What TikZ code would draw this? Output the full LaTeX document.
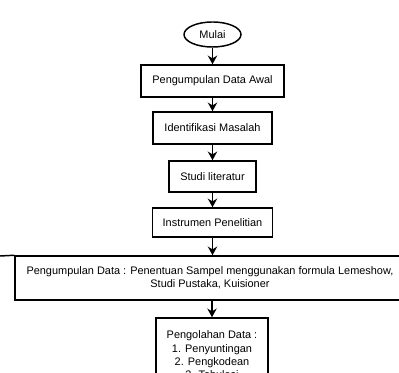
\documentclass[tikz,border=0pt]{standalone}
\usepackage{fontspec}
\setmainfont{Liberation Sans}
\usetikzlibrary{shapes.geometric,arrows.meta}

\begin{document}
\begin{tikzpicture}[x=0.75pt,y=-0.75pt,
  proses/.style={draw,line width=1.1pt,inner sep=0pt,align=center,font=\fontsize{8.2}{10}\selectfont},
  mulai/.style={draw,ellipse,line width=1.1pt,inner sep=0pt,font=\fontsize{8.2}{10}\selectfont},
  panah/.style={line width=1.4pt,-{Stealth[length=6.5pt,width=7pt]}}]
\useasboundingbox (0,0) rectangle (399,373);
\node[mulai,minimum width=42.75pt,minimum height=18.75pt] (mulai) at (212.5,34.5) {Mulai};
\node[proses,minimum width=107pt,minimum height=24pt] (awal) at (212.5,81) {Pengumpulan Data Awal};
\node[proses,minimum width=89pt,minimum height=24pt] (identifikasi) at (212.5,128) {Identifikasi Masalah};
\node[proses,minimum width=65pt,minimum height=23.25pt] (studi) at (212.5,176.5) {Studi literatur};
\node[proses,minimum width=90pt,minimum height=21.75pt] (instrumen) at (212.5,222.5) {Instrumen Penelitian};
\node[proses,minimum width=292.5pt,minimum height=33pt] (pengumpulan) at (210,278) {Pengumpulan Data : Penentuan Sampel menggunakan formula Lemeshow,\\ Studi Pustaka, Kuisioner};
\node[proses,minimum width=84pt,minimum height=55.5pt] (pengolahan) at (212,355) {Pengolahan Data :\\ 1. Penyuntingan\\ 2. Pengkodean\\ 3. Tabulasi};
\coordinate (kiri) at (0,256);
\draw[panah] (mulai) -- (awal);
\draw[panah] (awal) -- (identifikasi);
\draw[panah] (identifikasi) -- (studi);
\draw[panah] (studi) -- (instrumen);
\draw[panah] (instrumen) -- (instrumen |- pengumpulan.north);
\draw[panah] (pengolahan |- pengumpulan.south) -- (pengolahan);
\draw[line width=1.1pt] (kiri) -- (pengumpulan.north west);
\end{tikzpicture}
\end{document}
